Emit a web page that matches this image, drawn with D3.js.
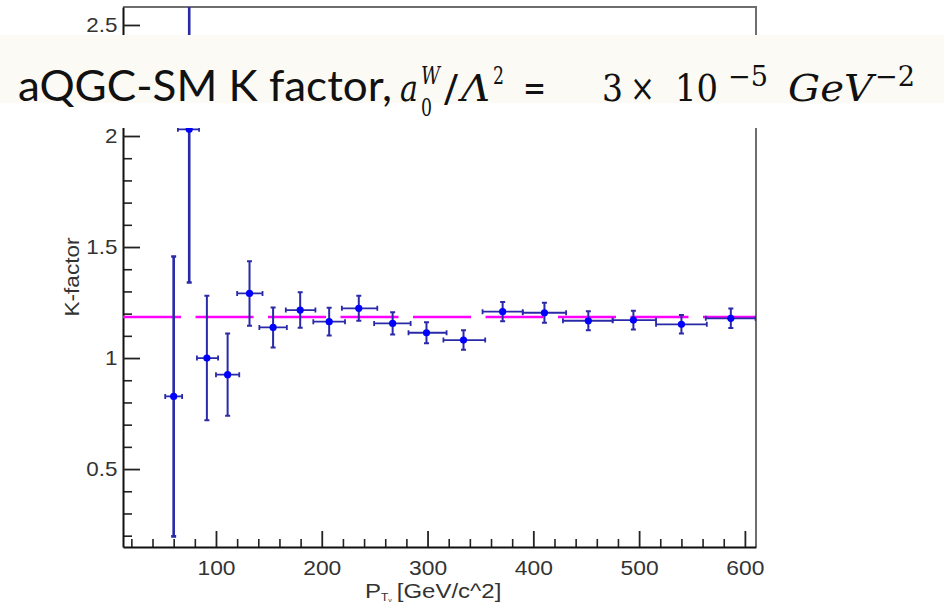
<!DOCTYPE html>
<html>
<head>
<meta charset="utf-8">
<script src="https://cdn.jsdelivr.net/npm/d3@7"></script>
<style>
  body { margin: 0; background: #fff; }
  svg { display: block; }
</style>
</head>
<body>
<svg id="mySvg"></svg>
<script>
// K-factor per pT bin (bin edges, central value, symmetric error)
var xLow  = [52, 64, 82, 100, 120, 141, 166, 192, 219, 249.5, 282, 315, 352, 390, 428, 475, 516, 563];
var xHigh = [68, 84, 102, 122, 144, 167, 194, 222, 252.5, 284, 318, 354.5, 390, 431, 475, 516, 564, 610];
var ptX   = [60, 74.7, 91.4, 111, 131.7, 154, 179.6, 207, 235, 267, 299, 334, 371, 410.5, 452, 494.6, 540, 586.7];
var kVal  = [0.827, 2.03, 1.0, 0.925, 1.291, 1.138, 1.216, 1.164, 1.224, 1.156, 1.114, 1.081, 1.209, 1.204, 1.168, 1.171, 1.152, 1.179];
var kErr  = [0.63, 0.69, 0.28, 0.185, 0.145, 0.09, 0.08, 0.063, 0.056, 0.05, 0.047, 0.044, 0.043, 0.045, 0.043, 0.042, 0.042, 0.044];
var fitK  = 1.185;

var xMajor = [100, 200, 300, 400, 500, 600];
var yMajor = [0.5, 1, 1.5, 2, 2.5];

var width = 944, height = 604;
var marginLeft = 123, marginRight = 188, marginTop = 7, marginBottom = 57;

var svg = d3.select("#mySvg")
    .attr("width", width)
    .attr("height", height)
    .attr("viewBox", [0, 0, width, height]);

svg.append("rect").attr("width", width).attr("height", height).attr("fill", "#fff");

var xScale = d3.scaleLinear().domain([12.1, 610.5]).range([marginLeft, width - marginRight]);
var yScale = d3.scaleLinear().domain([0.149, 2.581]).range([height - marginBottom, marginTop]);

var x0 = xScale.range()[0], x1 = xScale.range()[1];
var y0 = yScale.range()[0], y1 = yScale.range()[1];

svg.append("clipPath").attr("id", "plotClip")
  .append("rect").attr("x", x0).attr("y", y1).attr("width", x1 - x0).attr("height", y0 - y1);

// frame (top and right)
svg.append("path")
    .attr("d", `M${x0},${y1}H${x1}V${y0}`)
    .attr("fill", "none")
    .attr("stroke", "#6e6e6e")
    .attr("stroke-width", 2);

// minor ticks
var xMinor = d3.range(20, 611, 20).filter(v => v % 100 !== 0);
var yMinor = d3.range(2, 26).map(v => v / 10).filter(v => Math.abs(v * 2 - Math.round(v * 2)) > 1e-6);

svg.append("g")
    .attr("transform", `translate(0,${y0})`)
    .call(d3.axisBottom(xScale).tickValues(xMinor).tickSize(-8).tickFormat(""))
    .call(g => g.select(".domain").remove())
    .call(g => g.selectAll("line").attr("stroke", "#222").attr("stroke-width", 1.6));

svg.append("g")
    .attr("transform", `translate(${x0},0)`)
    .call(d3.axisLeft(yScale).tickValues(yMinor).tickSize(-9).tickFormat(""))
    .call(g => g.select(".domain").remove())
    .call(g => g.selectAll("line").attr("stroke", "#222").attr("stroke-width", 1.6));

// major axes
svg.append("g")
    .attr("transform", `translate(0,${y0})`)
    .call(d3.axisBottom(xScale).tickValues(xMajor).tickSize(-16).tickSizeOuter(0).tickPadding(14))
    .call(g => g.select(".domain").attr("stroke", "#111").attr("stroke-width", 2))
    .call(g => g.selectAll(".tick line").attr("stroke", "#222").attr("stroke-width", 1.8))
    .call(g => g.selectAll("text")
        .attr("font-family", "Liberation Sans, Arial, sans-serif")
        .attr("font-size", 19.5)
        .attr("fill", "#333")
        .attr("transform", "scale(1.17,1)"));

svg.append("g")
    .attr("transform", `translate(${x0},0)`)
    .call(d3.axisLeft(yScale).tickValues(yMajor).tickSize(-17).tickSizeOuter(0).tickPadding(5)
        .tickFormat(d => String(d)))
    .call(g => g.select(".domain").attr("stroke", "#111").attr("stroke-width", 2))
    .call(g => g.selectAll(".tick line").attr("stroke", "#222").attr("stroke-width", 1.8))
    .call(g => g.selectAll("text")
        .attr("font-family", "Liberation Sans, Arial, sans-serif")
        .attr("font-size", 20)
        .attr("fill", "#333")
        .attr("transform", "scale(1.12,1)"));

// axis titles
var xt = svg.append("text")
    .attr("transform", "translate(365,598) scale(1.2,1)")
    .attr("font-family", "Liberation Sans, Arial, sans-serif")
    .attr("font-size", 20)
    .attr("fill", "#333");
xt.append("tspan").text("P");
xt.append("tspan").attr("font-size", 10).attr("dy", 3).text("T");
xt.append("tspan").attr("font-size", 6).attr("dy", 1).text("ν");
xt.append("tspan").attr("dy", -4).attr("dx", 4).text("[GeV/c^2]");

svg.append("text")
    .attr("transform", "translate(79,277) rotate(-90)")
    .attr("text-anchor", "middle")
    .attr("font-family", "Liberation Sans, Arial, sans-serif")
    .attr("font-size", 20)
    .attr("textLength", 79)
    .attr("lengthAdjust", "spacingAndGlyphs")
    .attr("fill", "#333")
    .text("K-factor");

var plot = svg.append("g").attr("clip-path", "url(#plotClip)");

// fit line
plot.append("line")
    .attr("x1", x0).attr("x2", x1)
    .attr("y1", yScale(fitK)).attr("y2", yScale(fitK))
    .attr("stroke", "#ff00ff")
    .attr("stroke-width", 2.5)
    .attr("stroke-dasharray", "58,14.5");

var idx = d3.range(kVal.length);
var errColor = "#2a2aa8", cap = 2.5;

// horizontal error bars
plot.selectAll(".xerr").data(idx).join("path")
    .attr("class", "xerr")
    .attr("fill", "none")
    .attr("stroke", errColor)
    .attr("stroke-width", 1.8)
    .attr("d", i => {
      var a = xScale(xLow[i]), b = xScale(xHigh[i]), y = yScale(kVal[i]);
      return `M${a},${y}H${b}M${a},${y - cap}V${y + cap}M${b},${y - cap}V${y + cap}`;
    });

// vertical error bars
plot.selectAll(".yerr").data(idx).join("path")
    .attr("class", "yerr")
    .attr("fill", "none")
    .attr("stroke", errColor)
    .attr("stroke-width", i => kErr[i] > 0.5 ? 2.6 : 2)
    .attr("d", i => {
      var x = xScale(ptX[i]), t = yScale(kVal[i] + kErr[i]), b = yScale(kVal[i] - kErr[i]);
      return `M${x},${t}V${b}M${x - cap},${t}H${x + cap}M${x - cap},${b}H${x + cap}`;
    });

plot.selectAll(".pt").data(idx).join("circle")
    .attr("class", "pt")
    .attr("cx", i => xScale(ptX[i]))
    .attr("cy", i => yScale(kVal[i]))
    .attr("r", 3.6)
    .attr("fill", "#0000ff");

// title banner overlaid on the plot
svg.append("rect").attr("x", 0).attr("y", 35).attr("width", width).attr("height", 93).attr("fill", "#fff");
svg.append("rect").attr("x", 0).attr("y", 35).attr("width", width).attr("height", 68).attr("fill", "#fbfaf4");

var sans = "Lato, Noto Sans, sans-serif";
var serif = "DejaVu Serif, Liberation Serif, serif";
var title = svg.append("g").attr("fill", "#111");

function piece(str, x, y, size, len, fam, italic) {
  var t = title.append("text")
      .attr("x", x).attr("y", y)
      .attr("font-family", fam)
      .attr("font-size", size)
      .text(str);
  if (italic) t.attr("font-style", "italic");
  if (len) t.attr("textLength", len).attr("lengthAdjust", "spacingAndGlyphs");
  return t;
}

piece("aQGC-SM K factor,", 18, 101, 42, 374, sans, false);
piece("a", 400, 101, 38, 18, serif, true);
piece("W", 421, 84, 24, 19, serif, true);
piece("0", 421, 116, 24, 11, serif, false);
piece("/", 444, 101, 38, 14, serif, false);
piece("Λ", 461, 101, 38, 29, serif, true);
piece("2", 493, 84, 24, 11, serif, false);
piece("=", 523, 101, 38, 23, serif, false);
piece("3", 602, 101, 38, 21, serif, false);
piece("×", 630, 101, 38, 25, serif, false);
piece("10", 675, 101, 38, 43, serif, false);
piece("−5", 728, 86, 28, 40, serif, false);
piece("GeV", 788, 101, 38, 85, serif, true);
piece("−2", 875, 86, 28, 40, serif, false);
</script>
</body>
</html>
